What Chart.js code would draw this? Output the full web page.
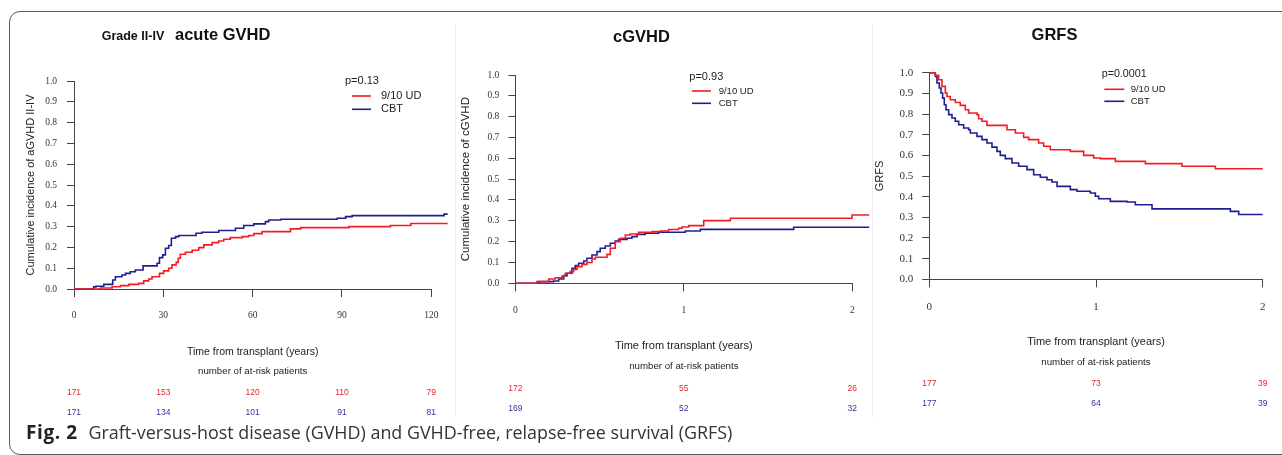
<!DOCTYPE html>
<html>
<head>
<meta charset="utf-8">
<script src="https://cdn.jsdelivr.net/npm/chart.js@4.4.0/dist/chart.umd.min.js"></script>
<style>
  html, body { margin: 0; padding: 0; background: #fff; }
  body { width: 1282px; height: 455px; position: relative; overflow: hidden; }
  .frame { position: absolute; left: 9px; top: 11px; width: 1400px; height: 441.5px; border: 1.5px solid #5a5a5a; border-radius: 11px; }
  .sep { position: absolute; top: 25px; height: 392px; width: 1px; background: #eeeeee; }
  canvas { position: absolute; top: 0; }
  .caption { position: absolute; left: 26px; top: 422px; font-family: 'Open Sans', sans-serif; font-size: 17.9px; color: #333; line-height: 20px; white-space: nowrap; }
  .caption b { color: #222; font-weight: 700; font-size: 19px; letter-spacing: 0.6px; margin-right: 6px; }
</style>
</head>
<body>
<div class="frame"></div>
<div class="sep" style="left:455px"></div>
<div class="sep" style="left:872px"></div>
<canvas id="chartA" width="455" height="430" style="left:0"></canvas>
<canvas id="chartC" width="417" height="430" style="left:455px"></canvas>
<canvas id="chartG" width="410" height="430" style="left:872px"></canvas>
<div class="caption"><b>Fig. 2</b> Graft-versus-host disease (GVHD) and GVHD-free, relapse-free survival (GRFS)</div>
<script>
const seriesNames = ['9/10 UD', 'CBT'];
const seriesColors = ['#f21d24', '#1f1f8f'];
const riskColors = ['#e3262b', '#35358f'];
const yTicks = [0, 0.1, 0.2, 0.3, 0.4, 0.5, 0.6, 0.7, 0.8, 0.9, 1.0];
const xTitle = 'Time from transplant (years)';
const riskTitle = 'number of at-risk patients';

// grade II-IV acute GVHD
const aTicks = [0, 30, 60, 90, 120];
const aTimeUD = [0, 8.9, 12.8, 15.6, 18.4, 21.7, 23.4, 25.1, 26.2, 28.7, 30.1, 31.8, 32.9, 34.3, 35.0, 35.7, 37.4, 39.7, 41.9, 43.6, 46.4, 48.6, 50.3, 52.5, 56.5, 58.7, 60.4, 63.2, 72.7, 76.1, 92.3, 106.3, 113.1, 125.5];
const aIncUD = [0, 0.005, 0.011, 0.016, 0.022, 0.027, 0.039, 0.048, 0.059, 0.075, 0.087, 0.100, 0.116, 0.128, 0.148, 0.167, 0.177, 0.186, 0.199, 0.212, 0.223, 0.231, 0.239, 0.247, 0.252, 0.257, 0.266, 0.276, 0.289, 0.295, 0.300, 0.305, 0.315, 0.315];
const aTimeCBT = [0, 6.6, 7.4, 10.0, 13.0, 13.9, 16.1, 17.3, 18.9, 20.6, 23.2, 27.9, 28.7, 29.8, 30.7, 31.8, 32.7, 34.1, 35.2, 41.0, 43.0, 48.6, 54.2, 57.0, 60.4, 64.3, 65.4, 69.4, 88.4, 91.2, 93.4, 124.3, 125.5];
const aIncCBT = [0, 0.010, 0.013, 0.022, 0.043, 0.059, 0.067, 0.075, 0.083, 0.091, 0.111, 0.124, 0.151, 0.164, 0.196, 0.209, 0.244, 0.252, 0.257, 0.268, 0.273, 0.281, 0.292, 0.305, 0.313, 0.324, 0.332, 0.335, 0.340, 0.348, 0.353, 0.360, 0.360];
const aRiskUD = [171, 153, 120, 110, 79];
const aRiskCBT = [171, 134, 101, 91, 81];

// chronic GVHD
const cTicks = [0, 1, 2];
const cTimeUD = [0, 0.129, 0.198, 0.237, 0.277, 0.297, 0.326, 0.346, 0.366, 0.396, 0.425, 0.455, 0.475, 0.544, 0.564, 0.593, 0.623, 0.653, 0.682, 0.732, 0.811, 0.861, 0.910, 0.969, 0.989, 1.029, 1.118, 1.276, 1.998, 2.1];
const cIncUD = [0, 0.008, 0.021, 0.027, 0.035, 0.048, 0.056, 0.067, 0.080, 0.091, 0.100, 0.117, 0.125, 0.139, 0.168, 0.200, 0.216, 0.232, 0.237, 0.245, 0.248, 0.251, 0.258, 0.264, 0.270, 0.277, 0.301, 0.312, 0.328, 0.328];
const cTimeCBT = [0, 0.129, 0.138, 0.227, 0.257, 0.287, 0.307, 0.336, 0.356, 0.376, 0.406, 0.425, 0.455, 0.485, 0.504, 0.534, 0.564, 0.593, 0.613, 0.663, 0.692, 0.722, 0.771, 0.851, 1.009, 1.098, 1.652, 2.1];
const cIncCBT = [0, 0.004, 0.008, 0.011, 0.021, 0.037, 0.048, 0.072, 0.085, 0.096, 0.107, 0.120, 0.136, 0.152, 0.168, 0.179, 0.192, 0.203, 0.211, 0.216, 0.224, 0.235, 0.240, 0.245, 0.251, 0.259, 0.269, 0.269];
const cRiskUD = [172, 55, 26];
const cRiskCBT = [169, 52, 32];

// GRFS
const gTicks = [0, 1, 2];
const gTimeUD = [0, 0.036, 0.056, 0.076, 0.096, 0.106, 0.126, 0.156, 0.186, 0.216, 0.236, 0.286, 0.296, 0.316, 0.346, 0.466, 0.516, 0.566, 0.596, 0.656, 0.686, 0.726, 0.846, 0.926, 0.986, 1.026, 1.116, 1.296, 1.516, 1.716, 2.0];
const gSurvUD = [1, 0.987, 0.966, 0.934, 0.902, 0.885, 0.869, 0.856, 0.842, 0.821, 0.805, 0.797, 0.777, 0.765, 0.745, 0.724, 0.708, 0.687, 0.676, 0.660, 0.644, 0.627, 0.619, 0.600, 0.587, 0.584, 0.571, 0.560, 0.547, 0.535, 0.535];
const gTimeCBT = [0, 0.036, 0.046, 0.060, 0.070, 0.080, 0.090, 0.100, 0.116, 0.136, 0.156, 0.176, 0.206, 0.236, 0.246, 0.286, 0.316, 0.346, 0.376, 0.406, 0.426, 0.456, 0.496, 0.536, 0.586, 0.626, 0.666, 0.706, 0.736, 0.766, 0.846, 0.886, 0.966, 0.996, 1.016, 1.086, 1.186, 1.236, 1.336, 1.806, 1.856, 2.0];
const gSurvCBT = [1, 0.982, 0.950, 0.926, 0.902, 0.877, 0.845, 0.821, 0.797, 0.781, 0.765, 0.748, 0.732, 0.724, 0.708, 0.692, 0.676, 0.660, 0.640, 0.619, 0.600, 0.584, 0.563, 0.547, 0.531, 0.506, 0.494, 0.482, 0.471, 0.450, 0.434, 0.426, 0.418, 0.402, 0.390, 0.377, 0.374, 0.361, 0.341, 0.329, 0.314, 0.314];
const gRiskUD = [177, 73, 39];
const gRiskCBT = [177, 64, 39];

const sans = "'Liberation Sans', Arial, sans-serif";
const serif = "'Liberation Serif', 'Times New Roman', serif";

// titres, legende, axe x et effectifs a risque
function kmText(o) {
    return {
        id: 'kmText',
        beforeDatasetsDraw(chart) {
            const x = chart.scales.x, y = chart.scales.y, c = chart.ctx;
            const t = o.xTicks;
            const yy = Math.round(y.getPixelForValue(0)) + 0.5;
            c.save();
            c.strokeStyle = '#444';
            c.lineWidth = 1;
            c.beginPath();
            c.moveTo(x.getPixelForValue(t[0]), yy);
            c.lineTo(x.getPixelForValue(t[t.length - 1]), yy);
            c.stroke();
            c.restore();
        },
        afterDraw(chart) {
            const c = chart.ctx, x = chart.scales.x, L = o.left;
            const t = o.xTicks;
            c.save();
            c.fillStyle = '#111';
            c.textBaseline = 'alphabetic';
            o.title.forEach(p => {
                c.font = p.font;
                c.textAlign = p.align;
                c.fillText(p.text, p.x - L, p.y);
            });
            // legende
            c.textAlign = 'left';
            c.textBaseline = 'middle';
            c.fillStyle = '#222';
            c.font = o.pSize + 'px ' + sans;
            c.fillText(o.pText, o.pX - L, o.pY);
            chart.data.datasets.forEach((ds, i) => {
                c.strokeStyle = ds.borderColor;
                c.lineWidth = 1.6;
                c.beginPath();
                c.moveTo(o.lineX[0] - L, o.rowY[i]);
                c.lineTo(o.lineX[1] - L, o.rowY[i]);
                c.stroke();
                c.font = o.labelSize + 'px ' + sans;
                c.fillText(ds.label, o.labelX - L, o.rowY[i]);
            });
            // titre x et effectifs
            const mid = (x.getPixelForValue(t[0]) + x.getPixelForValue(t[t.length - 1])) / 2;
            c.textAlign = 'center';
            c.font = o.xTitleSize + 'px ' + sans;
            c.fillText(xTitle, mid, o.xTitleY);
            c.font = o.riskTitleSize + 'px ' + sans;
            c.fillText(riskTitle, mid, o.riskTitleY);
            c.font = o.riskSize + 'px ' + sans;
            o.risk.forEach((row, r) => {
                c.fillStyle = riskColors[r];
                row.forEach((n, i) => c.fillText(String(n), x.getPixelForValue(t[i]), o.riskY[r]));
            });
            c.restore();
        }
    };
}

function kmChart(id, o) {
    const ctx = document.getElementById(id).getContext('2d');
    return new Chart(ctx, {
        type: 'line',
        data: {
            datasets: o.series.map((s, i) => ({
                label: seriesNames[i],
                data: s[0].map((v, k) => ({ x: v, y: s[1][k] })),
                borderColor: seriesColors[i],
                borderWidth: 1.6,
                pointRadius: 0,
                stepped: 'before',
                fill: false,
                clip: false
            }))
        },
        options: {
            responsive: false,
            animation: false,
            devicePixelRatio: 1,
            layout: { padding: { left: 0, top: o.top, right: o.right, bottom: 385 - o.bottom } },
            plugins: { legend: { display: false }, tooltip: { enabled: false } },
            scales: {
                x: {
                    type: 'linear',
                    min: 0,
                    max: o.xMax,
                    afterBuildTicks: s => { s.ticks = o.xTicks.map(v => ({ value: v })); },
                    afterFit: s => { s.height = 45; s.paddingLeft = 0; s.paddingRight = 0; },
                    grid: { drawOnChartArea: false, drawTicks: true, tickLength: 8, color: '#444' },
                    border: { display: false },
                    ticks: { font: { family: serif, size: o.tickSize }, color: '#333', padding: o.xPad, maxRotation: 0 }
                },
                y: {
                    min: 0,
                    max: 1,
                    afterBuildTicks: s => { s.ticks = yTicks.map(v => ({ value: v })); },
                    afterFit: s => { s.width = o.axisX; },
                    grid: { drawOnChartArea: false, drawTicks: true, tickLength: 7, color: '#444' },
                    border: { display: true, color: '#444' },
                    ticks: { font: { family: serif, size: o.tickSize }, color: '#333', padding: o.yPad, callback: v => v.toFixed(1) },
                    title: { display: true, text: o.yTitle, color: '#222', font: { family: sans, size: o.yTitleSize }, padding: { top: o.yTitlePad, bottom: 0 } }
                }
            }
        },
        plugins: [kmText(o)]
    });
}

kmChart('chartA', {
    left: 0, axisX: 74, top: 81, bottom: 289, right: 7, xMax: 125.6,
    xTicks: aTicks, tickSize: 9.5, xPad: 13, yPad: 10,
    yTitle: 'Cumulative incidence of aGVHD II-IV', yTitleSize: 11, yTitlePad: 24,
    series: [[aTimeUD, aIncUD], [aTimeCBT, aIncCBT]],
    title: [
        { text: 'Grade II-IV', font: 'bold 12.5px ' + sans, x: 101.7, y: 40, align: 'left' },
        { text: 'acute GVHD', font: 'bold 16.5px ' + sans, x: 175, y: 40, align: 'left' }
    ],
    pText: 'p=0.13', pX: 345, pY: 81, pSize: 11,
    lineX: [352, 371], rowY: [96, 109.3], labelX: 381, labelSize: 11,
    xTitleY: 352, xTitleSize: 10.5, riskTitleY: 371, riskTitleSize: 9.7,
    risk: [aRiskUD, aRiskCBT], riskY: [392.3, 412.7], riskSize: 8.5
});

kmChart('chartC', {
    left: 455, axisX: 60.3, top: 75, bottom: 283.3, right: 2.8, xMax: 2.1,
    xTicks: cTicks, tickSize: 9.5, xPad: 13.5, yPad: 9,
    yTitle: 'Cumulative incidence of cGVHD', yTitleSize: 11.5, yTitlePad: 4,
    series: [[cTimeUD, cIncUD], [cTimeCBT, cIncCBT]],
    title: [{ text: 'cGVHD', font: 'bold 16.5px ' + sans, x: 641.5, y: 41.5, align: 'center' }],
    pText: 'p=0.93', pX: 689.3, pY: 76.7, pSize: 11,
    lineX: [692, 711], rowY: [91, 103.3], labelX: 718.7, labelSize: 9.5,
    xTitleY: 345.7, xTitleSize: 11, riskTitleY: 366.7, riskTitleSize: 9.7,
    risk: [cRiskUD, cRiskCBT], riskY: [388.3, 408.3], riskSize: 8.5
});

kmChart('chartG', {
    left: 872, axisX: 57.3, top: 72.7, bottom: 279.3, right: 19.3, xMax: 2.0,
    xTicks: gTicks, tickSize: 11, xPad: 12.8, yPad: 9,
    yTitle: 'GRFS', yTitleSize: 11, yTitlePad: 1.4,
    series: [[gTimeUD, gSurvUD], [gTimeCBT, gSurvCBT]],
    title: [{ text: 'GRFS', font: 'bold 16.5px ' + sans, x: 1054.5, y: 40, align: 'center' }],
    pText: 'p=0.0001', pX: 1101.7, pY: 74, pSize: 10.7,
    lineX: [1104.3, 1124.3], rowY: [89.3, 101.3], labelX: 1130.7, labelSize: 9.5,
    xTitleY: 341.7, xTitleSize: 11, riskTitleY: 362.3, riskTitleSize: 9.7,
    risk: [gRiskUD, gRiskCBT], riskY: [383.3, 404], riskSize: 8.5
});
</script>
</body>
</html>
